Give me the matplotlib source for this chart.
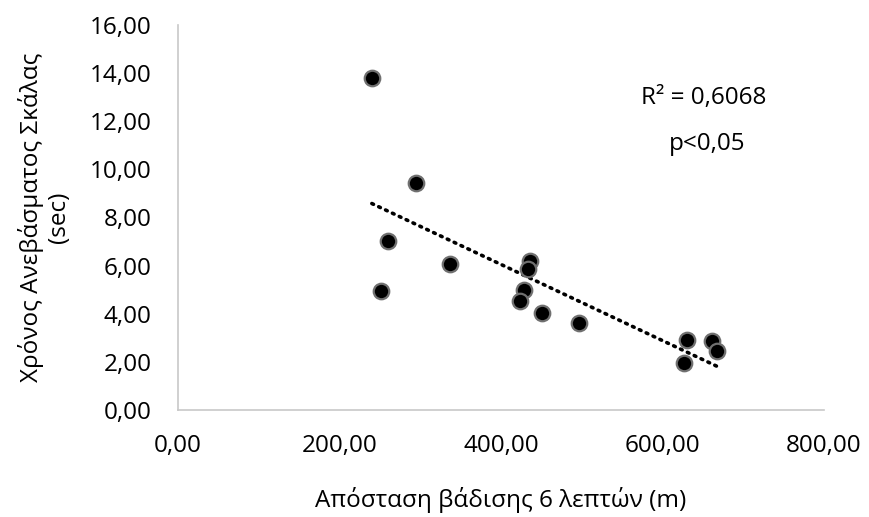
import numpy as np
import matplotlib
matplotlib.use('Agg')
from matplotlib import pyplot as plt
from matplotlib.ticker import FuncFormatter

# 6-minute walk distance (m) vs stair climb time (sec)
distance = [240, 295, 260, 337, 251, 436, 434, 428, 423, 451, 497, 630, 627, 661, 668]
climb_time = [13.79, 9.41, 7.00, 6.08, 4.96, 6.19, 5.87, 4.97, 4.54, 4.02, 3.60, 2.91, 1.94, 2.87, 2.46]

x_ticks = [0, 200, 400, 600, 800]
y_ticks = [0, 2, 4, 6, 8, 10, 12, 14, 16]

x_label = 'Απόσταση βάδισης 6 λεπτών (m)'
y_label = 'Χρόνος Ανεβάσματος Σκάλας\n(sec)'
r2_text = 'R² = 0,6068'
p_text = 'p<0,05'

plt.rcParams['font.family'] = ['Open Sans', 'DejaVu Sans']
FS = 17.5

fig = plt.figure(figsize=(8.69, 5.17), dpi=100)
ax = fig.add_axes([0.205, 0.207, 0.743, 0.745])

x = np.array(distance, dtype=float)
y = np.array(climb_time, dtype=float)

# linear trend line over the data range
slope, intercept = np.polyfit(x, y, 1)
xs = np.array([x.min(), x.max()])
ax.plot(xs, slope * xs + intercept, color='black', lw=2.6, linestyle=(0, (0.5, 1.6)),
        dash_capstyle='round', zorder=2)

ax.scatter(x, y, s=125, c='black', edgecolors='#707070', linewidths=1.6, zorder=3)

ax.set_xlim(0, 800)
ax.set_ylim(0, 16)
ax.set_xticks(x_ticks)
ax.set_yticks(y_ticks)

fmt = FuncFormatter(lambda v, pos: f'{v:.2f}'.replace('.', ','))
ax.xaxis.set_major_formatter(fmt)
ax.yaxis.set_major_formatter(fmt)

for s in ['top', 'right']:
    ax.spines[s].set_visible(False)
for s in ['left', 'bottom']:
    ax.spines[s].set_color('#c8c8c8')
    ax.spines[s].set_linewidth(1.2)

ax.tick_params(length=0, labelsize=FS, colors='black')
ax.tick_params(axis='x', pad=17)
ax.tick_params(axis='y', pad=19)

ax.set_xlabel(x_label, fontsize=FS, va='center')
ax.xaxis.set_label_coords(0.5, -0.235)
ax.set_ylabel(y_label, fontsize=FS, linespacing=1.2, va='center')
ax.yaxis.set_label_coords(-0.207, 0.5)

ax.text(0.717, 0.81, r2_text, transform=ax.transAxes, fontsize=FS, ha='left', va='center')
ax.text(0.76, 0.69, p_text, transform=ax.transAxes, fontsize=FS, ha='left', va='center')

fig.savefig('out.png', dpi=100)
